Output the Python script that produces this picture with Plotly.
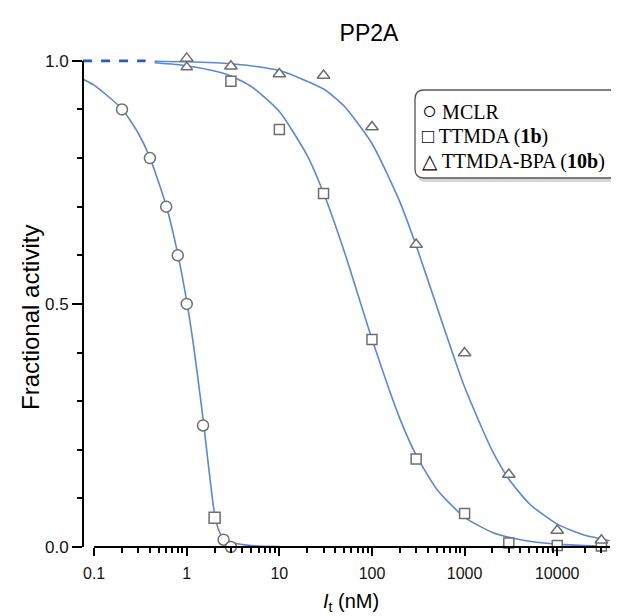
import math
import plotly.graph_objects as go

# PP2A inhibition data
mclr_x = [0.2, 0.4, 0.6, 0.8, 1.0, 1.5, 2.0, 2.5, 3.0]
mclr_y = [0.90, 0.80, 0.70, 0.60, 0.50, 0.25, 0.06, 0.015, 0.0]
mclr_sym = ["circle", "circle", "circle", "circle", "circle", "circle", "square", "circle", "circle"]

ttmda_x = [1, 3, 10, 30, 100, 300, 1000, 3000, 10000, 30000]
ttmda_y = [0.987, 0.958, 0.859, 0.727, 0.427, 0.181, 0.069, 0.008, 0.003, 0.002]
ttmda_sym = ["triangle-up"] + ["square"] * 9

bpa_x = [1, 3, 10, 30, 100, 300, 1000, 3000, 10000, 30000]
bpa_y = [1.005, 0.989, 0.973, 0.970, 0.864, 0.622, 0.399, 0.149, 0.034, 0.014]

# fitted curves
mclr_fit_x = [0.076, 0.1, 0.2, 0.3, 0.4, 0.6, 0.8, 1.0, 1.2, 1.5, 1.7, 1.9, 2.0, 2.2, 2.5, 3, 5, 10]
mclr_fit_y = [0.962, 0.950, 0.901, 0.851, 0.801, 0.702, 0.603, 0.505, 0.407, 0.264, 0.174, 0.097,
              0.068, 0.036, 0.018, 0.010, 0.003, 0.001]
ttmda_fit_x = [0.45, 1, 2, 3, 5, 10, 20, 30, 50, 100, 200, 300, 500, 1000, 2000, 3000, 5000, 10000, 20000, 37000]
ttmda_fit_y = [0.996, 0.990, 0.979, 0.969, 0.947, 0.896, 0.805, 0.728, 0.609, 0.428, 0.264, 0.189,
               0.119, 0.061, 0.030, 0.020, 0.012, 0.006, 0.003, 0.001]
bpa_fit_x = [0.45, 1, 3, 10, 30, 50, 100, 200, 300, 500, 1000, 2000, 3000, 5000, 10000, 20000, 37000]
bpa_fit_y = [0.999, 0.998, 0.994, 0.980, 0.942, 0.907, 0.830, 0.710, 0.620, 0.495, 0.329, 0.197,
             0.140, 0.089, 0.047, 0.024, 0.013]
dash_x = [0.076, 0.36]
dash_y = [1.0, 1.0]

x_ticks = [0.1, 1, 10, 100, 1000, 10000]
x_ticktext = ["0.1", "1", "10", "100", "1000", "10000"]
x_minor = [m * d for d in [0.1, 1, 10, 100, 1000, 10000] for m in range(2, 10) if m * d < 37000]
y_ticks = [0, 0.5, 1.0]
y_ticktext = ["0.0", "0.5", "1.0"]
legend_labels = ["<span style='font-size:25px'>○</span> MCLR",
                 "□ TTMDA (<b>1b</b>)",
                 "△ TTMDA-BPA (<b>10b</b>)"]

W, H = 619, 616
L, R, T, B = 75, 17, 47, 77
pw, ph = W - L - R, H - T - B
xr = [-1.12, 4.57]
yr = [0, 1.012]


def px(x):
    return (x - L) / pw


def py(y):
    return (H - B - y) / ph


sans = "Liberation Sans, Arial, sans-serif"
serif = "Liberation Serif, Times New Roman, serif"
curve_col = "#5b88d2"
mk_line = dict(color="#6e6e6e", width=1.5)

fig = go.Figure()
for cx, cy in [(mclr_fit_x, mclr_fit_y), (ttmda_fit_x, ttmda_fit_y), (bpa_fit_x, bpa_fit_y)]:
    fig.add_trace(go.Scatter(x=cx, y=cy, mode="lines", line=dict(color=curve_col, width=1.6, shape="spline", smoothing=0.6),
                             hoverinfo="skip", showlegend=False))
fig.add_trace(go.Scatter(x=dash_x, y=dash_y, mode="lines", line=dict(color="#1f5fbf", width=2.6, dash="dash"),
                         showlegend=False, hoverinfo="skip"))

fig.add_trace(go.Scatter(x=mclr_x, y=mclr_y, mode="markers", name="MCLR", cliponaxis=False,
                         marker=dict(symbol=mclr_sym, size=11, color="white", line=mk_line)))
fig.add_trace(go.Scatter(x=ttmda_x, y=ttmda_y, mode="markers", name="TTMDA (1b)", cliponaxis=False,
                         marker=dict(symbol=ttmda_sym, size=10, color="white", line=mk_line)))
fig.add_trace(go.Scatter(x=bpa_x, y=bpa_y, mode="markers", name="TTMDA-BPA (10b)", cliponaxis=False,
                         marker=dict(symbol="triangle-up", size=11, color="white", line=mk_line)))

# offset axis lines: x axis starts at 0.1, y axis stops at 1.0
x_start = (math.log10(x_ticks[0]) - xr[0]) / (xr[1] - xr[0])
y_top = (1.0 - yr[0]) / (yr[1] - yr[0])
fig.add_shape(type="line", xref="paper", yref="paper", x0=x_start, x1=1, y0=0, y1=0,
              line=dict(color="black", width=2), layer="above")
fig.add_shape(type="line", xref="paper", yref="paper", x0=0, x1=0, y0=0, y1=y_top,
              line=dict(color="black", width=2), layer="above")

# legend box with rounded corners and soft shadow
bx0, bx1, by0, by1 = px(407), px(628), py(170), py(82)
rx, ry = 9 / pw, 9 / ph


def rounded(x0, x1, y0, y1):
    return (f"M {x0 + rx},{y1} L {x1 - rx},{y1} Q {x1},{y1} {x1},{y1 - ry} L {x1},{y0 + ry} "
            f"Q {x1},{y0} {x1 - rx},{y0} L {x0 + rx},{y0} Q {x0},{y0} {x0},{y0 + ry} "
            f"L {x0},{y1 - ry} Q {x0},{y1} {x0 + rx},{y1} Z")


fig.add_shape(type="path", xref="paper", yref="paper", path=rounded(bx0 + 2 / pw, bx1 + 2 / pw, by0 - 4 / ph, by1 - 4 / ph),
              fillcolor="rgba(0,0,0,0.16)", line=dict(width=0))
fig.add_shape(type="path", xref="paper", yref="paper", path=rounded(bx0, bx1, by0, by1),
              fillcolor="white", line=dict(color="#555555", width=1.3))
for lab, yy in zip(legend_labels, [102, 128, 153]):
    fig.add_annotation(x=px(412), y=py(yy), xref="paper", yref="paper", text=lab, showarrow=False,
                       xanchor="left", yanchor="middle", font=dict(family=serif, size=20, color="black"))

# axis titles
fig.add_annotation(x=px(343), y=py(594), xref="paper", yref="paper", text="<i>I</i><sub>t</sub> (nM)",
                   showarrow=False, xanchor="center", yanchor="middle", font=dict(family=sans, size=20, color="black"))
fig.add_annotation(x=px(22), y=py(310), xref="paper", yref="paper", text="Fractional activity", textangle=-90,
                   showarrow=False, xanchor="center", yanchor="middle", font=dict(family=sans, size=24, color="black"))

fig.update_layout(
    width=W, height=H,
    margin=dict(l=L, r=R, t=T, b=B, autoexpand=False),
    plot_bgcolor="white", paper_bgcolor="white",
    title=dict(text="PP2A", x=361 / W, xanchor="center", y=1 - 25 / H, yanchor="middle",
               font=dict(family=sans, size=23, color="black")),
    showlegend=False,
    xaxis=dict(type="log", range=xr, showline=False, showgrid=False, zeroline=False, automargin=False,
               tickvals=x_ticks, ticktext=x_ticktext, ticks="outside", ticklen=8, tickwidth=2, tickcolor="black",
               ticklabelstandoff=4,
               minor=dict(tickvals=x_minor, ticks="outside", ticklen=5, tickwidth=1.5, tickcolor="black"),
               tickfont=dict(family=sans, size=16, color="#111")),
    yaxis=dict(range=yr, showline=False, showgrid=False, zeroline=False, automargin=False,
               tickvals=y_ticks, ticktext=y_ticktext, ticks="outside", ticklen=10, tickwidth=2, tickcolor="black",
               minor=dict(dtick=0.1, tick0=0, ticks="outside", ticklen=5, tickwidth=1.5, tickcolor="black"),
               tickfont=dict(family=sans, size=17, color="#111")),
)

fig.write_html("out.html")
